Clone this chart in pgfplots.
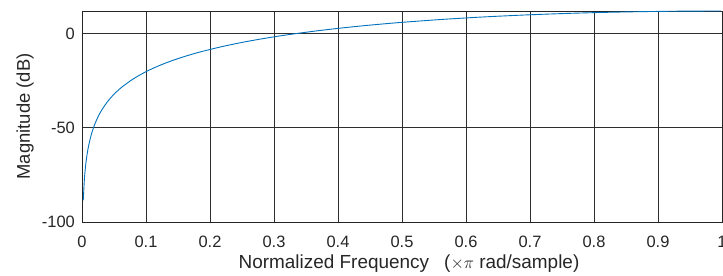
\documentclass[border=0pt]{standalone}
\usepackage{fontspec}
\setmainfont{Liberation Sans}
\usepackage{pgfplots}
\pgfplotsset{compat=1.18}
\definecolor{mblue}{rgb}{0,0.447,0.741}
\begin{document}
\begin{tikzpicture}
\begin{axis}[
  at={(0,0)}, anchor=south west,
  scale only axis, width=640bp, height=211bp,
  xmin=0, xmax=1, ymin=-100, ymax=12.04,
  xtick={0,0.1,0.2,0.3,0.4,0.5,0.6,0.7,0.8,0.9,1},
  xticklabels={0,0.1,0.2,0.3,0.4,0.5,0.6,0.7,0.8,0.9,1},
  ytick={-100,-50,0},
  yticklabels={-100,-50,0},
  major tick length=0pt,
  grid=major,
  major grid style={color=black!82, line width=0.7bp},
  axis line style={color=black!85, line width=0.8bp},
  tick label style={font=\fontsize{16.5}{20}\selectfont, color=black!85},
  xticklabel style={anchor=base, inner sep=0pt, yshift=-25bp},
  yticklabel style={anchor=east, inner sep=0pt, xshift=-7bp},
  every axis x label/.style={at={(axis description cs:0.5,0)}, anchor=base, inner sep=0pt, xshift=7bp, yshift=-46bp, font=\fontsize{19}{23}\selectfont, color=black!85},
  every axis y label/.style={at={(axis description cs:0,0.5)}, rotate=90, anchor=center, yshift=57bp, font=\fontsize{18.5}{22}\selectfont, color=black!85},
  xlabel={Normalized Frequency\hspace{0.8em}(\(\times\pi\) rad/sample)},
  ylabel={Magnitude (dB)},
  clip=true,
]
\addplot[mblue, line width=0.9bp, smooth, tension=0.4] coordinates {
(0.001953,-88.49) (0.003906,-76.44) (0.005859,-69.40) (0.007813,-64.40)
(0.009766,-60.53) (0.011719,-57.36) (0.013672,-54.68) (0.015625,-52.36)
(0.019531,-48.49) (0.023438,-45.32) (0.027344,-42.64) (0.03125,-40.33)
(0.039063,-36.45) (0.046875,-33.29) (0.054688,-30.62) (0.0625,-28.31)
(0.078125,-24.45) (0.09375,-21.30) (0.109375,-18.64) (0.125,-16.35)
(0.140625,-14.33) (0.15625,-12.54) (0.171875,-10.92) (0.1875,-9.45)
(0.21875,-6.86) (0.25,-4.645) (0.28125,-2.72) (0.3125,-1.02)
(0.34375,0.48) (0.375,1.83) (0.40625,3.04) (0.4375,4.14)
(0.46875,5.12) (0.5,6.02) (0.5625,7.57) (0.625,8.84)
(0.6875,9.86) (0.75,10.67) (0.8125,11.28) (0.875,11.70)
(0.9375,11.96) (0.998047,12.04)
};
\end{axis}
\pgfresetboundingbox
\path[use as bounding box] ([xshift=-82bp,yshift=-54bp]current axis.south west) rectangle ([xshift=1bp,yshift=11bp]current axis.north east);
\end{tikzpicture}
\end{document}
